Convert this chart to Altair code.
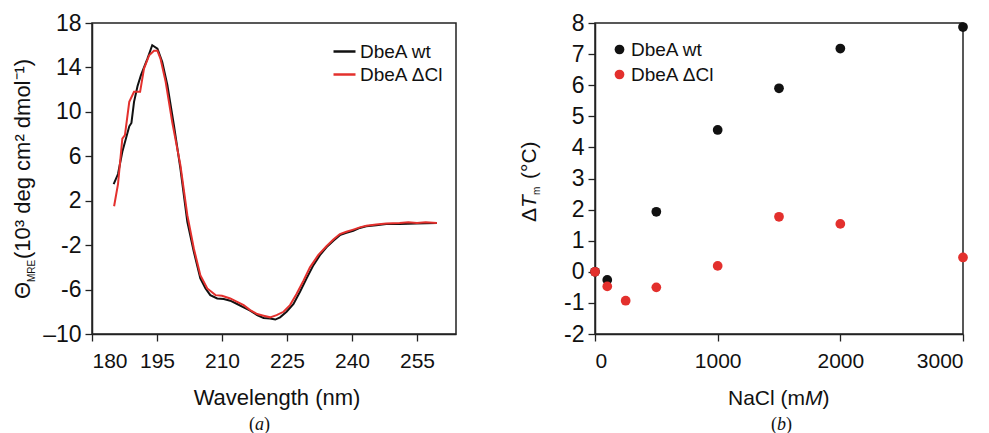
import altair as alt
import pandas as pd

# ---------------- data: panel (a) CD spectra ----------------
series_names = ["DbeA wt", "DbeA ΔCl"]

wl_wt = [185.0, 186.0, 187.0, 188.6, 189.1, 189.7, 190.5, 191.3, 192.8, 193.9, 195.1,
         196.2, 197.4, 198.9, 200.4, 202.0, 203.5, 205.0, 206.2, 207.3, 208.9, 210.4,
         211.9, 213.5, 215.0, 216.5, 218.1, 219.6, 221.1, 222.3, 223.4, 224.9, 226.5,
         228.0, 229.5, 231.1, 232.6, 234.1, 235.7, 237.2, 238.7, 240.3, 241.8, 243.3,
         245.6, 247.9, 251.0, 254.8, 259.6]
theta_wt = [3.5, 4.4, 6.4, 8.7, 9.0, 10.9, 12.3, 13.3, 14.8, 16.0, 15.7,
            14.5, 12.4, 8.8, 4.9, 0.1, -2.6, -5.0, -5.9, -6.5, -6.8, -6.85,
            -7.0, -7.3, -7.6, -7.9, -8.3, -8.55, -8.6, -8.7, -8.5, -8.0, -7.3,
            -6.2, -5.0, -3.8, -2.9, -2.2, -1.6, -1.1, -0.9, -0.7, -0.45, -0.3,
            -0.2, -0.1, -0.1, -0.05, 0.0]

wl_cl = [185.1, 186.0, 187.0, 187.6, 188.6, 189.7, 191.1, 192.0, 193.2, 194.3, 195.1,
         195.8, 197.0, 198.5, 200.4, 202.0, 203.5, 205.0, 206.6, 208.5, 210.0, 211.9,
         213.5, 215.0, 216.5, 218.1, 219.6, 221.1, 222.6, 224.2, 225.7, 227.2, 228.8,
         230.3, 232.2, 234.1, 235.7, 237.2, 238.7, 240.3, 241.8, 243.3, 245.6, 247.9,
         251.0, 253.0, 255.0, 257.0, 259.6]
theta_cl = [1.5, 3.5, 7.6, 7.9, 10.9, 11.8, 11.8, 13.9, 15.1, 15.5, 15.5,
            14.8, 12.7, 9.1, 5.2, 0.7, -2.3, -4.7, -5.9, -6.5, -6.55, -6.8,
            -7.1, -7.4, -7.85, -8.2, -8.35, -8.5, -8.3, -8.0, -7.4, -6.4, -5.2,
            -4.0, -2.9, -2.1, -1.5, -1.0, -0.8, -0.6, -0.4, -0.25, -0.15, -0.05,
            0.0, 0.05, 0.0, 0.05, 0.0]

# ---------------- data: panel (b) delta Tm ----------------
nacl_wt = [0, 100, 500, 1000, 1500, 2000, 3000]
dtm_wt = [0.0, -0.26, 1.93, 4.56, 5.9, 7.18, 7.87]
nacl_cl = [0, 100, 250, 500, 1000, 1500, 2000, 3000]
dtm_cl = [0.0, -0.47, -0.93, -0.5, 0.19, 1.77, 1.54, 0.46]

a_x_ticks = [180, 195, 210, 225, 240, 255]
a_y_ticks = [-10, -6, -2, 2, 6, 10, 14, 18]
b_x_ticks = [0, 1000, 2000, 3000]
b_y_ticks = [-2, -1, 0, 1, 2, 3, 4, 5, 6, 7, 8]

BLACK = "#111111"
RED = "#e3302d"
FONT = "Liberation Sans"
SERIF = "Liberation Serif"

df_a = pd.concat([
    pd.DataFrame({"wl": wl_wt, "theta": theta_wt, "sample": series_names[0]}),
    pd.DataFrame({"wl": wl_cl, "theta": theta_cl, "sample": series_names[1]}),
])
df_b = pd.concat([
    pd.DataFrame({"nacl": nacl_wt, "dtm": dtm_wt, "protein": series_names[0]}),
    pd.DataFrame({"nacl": nacl_cl, "dtm": dtm_cl, "protein": series_names[1]}),
])


def txt(text, x, y, size, angle=0, align="left", style="normal", font=FONT):
    return alt.Chart(pd.DataFrame({"t": [text]})).mark_text(
        align=align, baseline="alphabetic", fontSize=size, angle=angle,
        fontStyle=style, font=font, color=BLACK,
    ).encode(x=alt.value(x), y=alt.value(y), text="t:N")


W_A, H = 364, 311
W_B = 368
Y_LABEL_SIZE = 23

lines = alt.Chart(df_a).mark_line(strokeWidth=2, clip=True).encode(
    x=alt.X("wl:Q", scale=alt.Scale(domain=[180, 264], nice=False, zero=False),
            axis=alt.Axis(title=None, values=a_x_ticks, labelPadding=9, format="d")),
    y=alt.Y("theta:Q", scale=alt.Scale(domain=[-10, 18], nice=False, zero=False),
            axis=alt.Axis(title=None, values=a_y_ticks, labelPadding=4, labelFontSize=Y_LABEL_SIZE,
                          labelExpr="datum.value == -10 ? '–10' : (datum.value < 0 ? '-' + abs(datum.value) : '' + datum.value)")),
    color=alt.Color("sample:N", scale=alt.Scale(domain=series_names, range=[BLACK, RED]),
                    legend=alt.Legend(title=None, orient="none", legendX=240, legendY=16,
                                      symbolType="stroke", symbolSize=484, symbolStrokeWidth=2.5,
                                      labelFontSize=19, labelFont=FONT, labelColor=BLACK,
                                      labelOffset=3, rowPadding=0, padding=0)),
)

panel_a = alt.layer(
    lines,
    txt("Θ", -62, 276, 22, angle=270),
    txt("MRE", -57, 259, 10, angle=270),
    txt("(10³ deg cm² dmol⁻¹)", -62, 236, 22, angle=270),
    txt("Wavelength (nm)", 185, 382, 22, align="center"),
    txt("(", 157, 407, 18, font=SERIF),
    txt("a", 163, 407, 18, style="italic", font=SERIF),
    txt(")", 172, 407, 18, font=SERIF),
).properties(width=W_A, height=H)

points = alt.Chart(df_b).mark_circle(size=95, opacity=1).encode(
    x=alt.X("nacl:Q", scale=alt.Scale(domain=[0, 3000], nice=False),
            axis=alt.Axis(title=None, values=b_x_ticks, labelPadding=9, format="d")),
    y=alt.Y("dtm:Q", scale=alt.Scale(domain=[-2, 8], nice=False, zero=False),
            axis=alt.Axis(title=None, values=b_y_ticks, labelPadding=4, labelFontSize=Y_LABEL_SIZE,
                          labelExpr="datum.value < 0 ? '-' + abs(datum.value) : '' + datum.value")),
    color=alt.Color("protein:N", scale=alt.Scale(domain=series_names, range=[BLACK, RED]),
                    legend=alt.Legend(title=None, orient="none", legendX=15, legendY=17,
                                      symbolType="circle", symbolSize=95, symbolStrokeWidth=0,
                                      labelFontSize=19, labelFont=FONT, labelColor=BLACK,
                                      labelOffset=2, rowPadding=5, padding=0)),
)

panel_b = alt.layer(
    points,
    txt("Δ", -59, 199, 21, angle=270),
    txt("T", -59, 185, 21, angle=270, style="italic"),
    txt("m", -55, 172, 10, angle=270),
    txt("(°C)", -59, 156, 21, angle=270),
    txt("NaCl (m", 133, 382, 21),
    txt("M", 210, 382, 21, style="italic"),
    txt(")", 227.5, 382, 21),
    txt("(", 176, 407, 18, font=SERIF),
    txt("b", 182, 407, 18, style="italic", font=SERIF),
    txt(")", 191, 407, 18, font=SERIF),
).properties(width=W_B, height=H)

chart = alt.hconcat(panel_a, panel_b, spacing=61).resolve_scale(
    color="independent"
).resolve_legend(color="independent").properties(
    padding={"left": 3, "top": 3, "right": 0, "bottom": 0}
).configure_view(
    stroke="#222222", strokeWidth=1.5
).configure_axis(
    labelFont=FONT, labelFontSize=21, labelColor=BLACK,
    domainColor="#222222", domainWidth=1.5,
    tickColor="#222222", tickWidth=1.3, tickSize=7, grid=False,
)

chart.save("out.html", embed_options={"renderer": "svg", "actions": False})
